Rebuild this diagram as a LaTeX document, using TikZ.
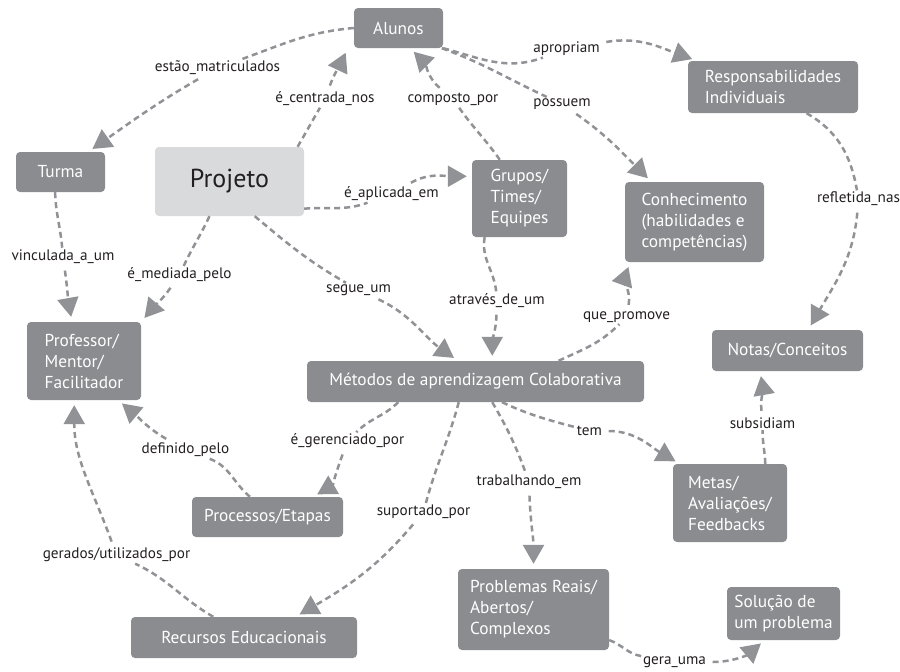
\documentclass[tikz,border=0pt]{standalone}
\usepackage{fontspec}
\setmainfont{PT Sans}
\usetikzlibrary{arrows.meta}
\definecolor{boxgray}{RGB}{139,140,144}
\definecolor{lightbox}{RGB}{217,218,220}
\definecolor{linegray}{RGB}{145,146,150}
\definecolor{ink}{RGB}{35,31,32}

\begin{document}
\begin{tikzpicture}[
    x=1pt, y=1pt,
    box/.style={rectangle, fill=boxgray, rounded corners=4pt, text=white, align=left, inner sep=0pt, font=\fontsize{17.3}{21}\selectfont},
    lbl/.style={inner sep=1.5pt, text=ink, font=\fontsize{15.2}{17}\selectfont},
    link/.style={draw=linegray, line width=2.5pt, dash pattern=on 6pt off 4pt, -{Triangle[length=19pt,width=21pt]}, shorten <=5pt, shorten >=5pt}
]
\useasboundingbox (0,0) rectangle (900,-672);

% Alunos and Turma
\node[box, minimum width=89pt, minimum height=40pt] (alunos) at (398.5,-28) {Alunos};
\node[box, minimum width=89pt, minimum height=40pt] (turma) at (60.5,-172) {Turma};

% Projeto
\node[box, fill=lightbox, text=ink, font=\fontsize{26}{30}\selectfont, minimum width=149pt, minimum height=69pt] (projeto) at (229.5,-181.5) {Projeto};

% Grupos, Conhecimento, Responsabilidades
\node[box, minimum width=95pt, minimum height=77pt] (grupos) at (519.5,-198.5) {Grupos/\\Times/\\Equipes};
\node[box, minimum width=139pt, minimum height=80pt] (conhec) at (694.5,-222) {Conhecimento\\(habilidades e\\competências)};
\node[box, minimum width=170pt, minimum height=52pt] (resp) at (773,-87) {Responsabilidades\\Individuais};

% Professor and Metodos
\node[box, minimum width=114pt, minimum height=78pt] (prof) at (84,-361) {Professor/\\Mentor/\\Facilitador};
\node[box, minimum width=337pt, minimum height=41pt] (metodos) at (475.5,-381.5) {Métodos de aprendizagem Colaborativa};

% Notas and Metas
\node[box, minimum width=151pt, minimum height=41pt] (notas) at (787.5,-350.5) {Notas/Conceitos};
\node[box, minimum width=114pt, minimum height=78pt] (metas) at (730,-503) {Metas/\\Avaliações/\\Feedbacks};

% Processos, Recursos, Problemas, Solucao
\node[box, minimum width=151pt, minimum height=40pt] (processos) at (267.5,-517) {Processos/Etapas};
\node[box, minimum width=226pt, minimum height=41pt] (recursos) at (244,-637.5) {Recursos Educacionais};
\node[box, minimum width=151pt, minimum height=81pt] (problemas) at (533.5,-609.5) {Problemas Reais/\\Abertos/\\Complexos};
\node[box, minimum width=113pt, minimum height=53pt] (solucao) at (783.5,-613.5) {Solução de\\um problema};

% link labels
\node[lbl] (matric) at (217.5,-68) {estão\_matriculados};
\node[lbl] (centrada) at (325,-99) {é\_centrada\_nos};
\node[lbl] (composto) at (453,-99) {composto\_por};
\node[lbl] (apropriam) at (566.5,-49) {apropriam};
\node[lbl] (possuem) at (562,-104) {possuem};
\node[lbl] (aplicada) at (391.5,-194) {é\_aplicada\_em};
\node[lbl] (refletida) at (858.5,-199) {refletida\_nas};
\node[lbl] (vinculada) at (63,-257) {vinculada\_a\_um};
\node[lbl] (mediada) at (179.5,-275) {é\_mediada\_pelo};
\node[lbl] (segue) at (358.5,-290) {segue\_um};
\node[lbl] (atraves) at (497,-301) {através\_de\_um};
\node[lbl] (promove) at (626.5,-317) {que\_promove};
\node[lbl] (subsidiam) at (762.5,-423) {subsidiam};
\node[lbl] (tem) at (589.5,-431) {tem};
\node[lbl] (gerenciado) at (347.5,-441) {é\_gerenciado\_por};
\node[lbl] (definido) at (185.5,-450) {definido\_pelo};
\node[lbl] (suportado) at (423.5,-512) {suportado\_por};
\node[lbl] (gerados) at (116.5,-555) {gerados/utilizados\_por};
\node[lbl] (trabalhando) at (529,-482) {trabalhando\_em};
\node[lbl] (gera) at (674.5,-662) {gera\_uma};

% links
\draw[link] (alunos.west) to[out=185,in=20] (matric) to[out=210,in=35] (turma.36);
\draw[link] (projeto.27) to[out=60,in=240] (centrada) to[out=70,in=245] ([xshift=-6pt]alunos.south west);
\draw[link] (grupos.117) to[out=125,in=305] (composto) to[out=140,in=315] (alunos.-60);
\draw[link] (alunos.south east) to[out=-15,in=200] (apropriam) to[out=10,in=160] (resp.161);
\draw[link] (alunos.-25) to[out=-20,in=155] (possuem) to[out=-35,in=135] (conhec.137);
\draw[link] (projeto.-20) to[out=5,in=200] (aplicada) to[out=30,in=180] (grupos.155);
\draw[link] (resp.-38) to[out=-30,in=100] (refletida) to[out=-95,in=60] (notas.45);
\draw[link] (turma.-105) to[out=-88,in=95] (vinculada) to[out=-82,in=100] (prof.107);
\draw[link] (projeto.-120) to[out=-115,in=65] (mediada) to[out=-125,in=50] (prof.north east);
\draw[link] (projeto.-54) to[out=-40,in=150] (segue) to[out=-25,in=145] (metodos.130);
\draw[link] (grupos.-132) to[out=-100,in=95] (atraves) to[out=-92,in=90] (metodos.51);
\draw[link] (metodos.14) to[out=25,in=225] (promove) to[out=80,in=250] (conhec.-148);
\draw[link] (metas.48) to[out=92,in=-90] (subsidiam) to[out=95,in=-80] (notas.-143);
\draw[link] (metodos.-38) to[out=-25,in=165] (tem) to[out=0,in=150] (metas.142);
\draw[link] (metodos.-165) to[out=-135,in=45] (gerenciado) to[out=-110,in=30] (processos.24);
\draw[link] (processos.131) to[out=140,in=-20] (definido) to[out=150,in=-40] (prof.-49);
\draw[link] (metodos.-129) to[out=-105,in=75] (suportado) to[out=-130,in=30] (recursos.22);
\draw[link] (recursos.146) to[out=150,in=-25] (gerados) to[out=110,in=-90] (prof.-104);
\draw[link] (metodos.-51) to[out=-60,in=110] (trabalhando) to[out=-88,in=90] (problemas.north);
\draw[link] (problemas.-22) to[out=-20,in=170] (gera) to[out=0,in=220] (solucao.-125);

\end{tikzpicture}
\end{document}
